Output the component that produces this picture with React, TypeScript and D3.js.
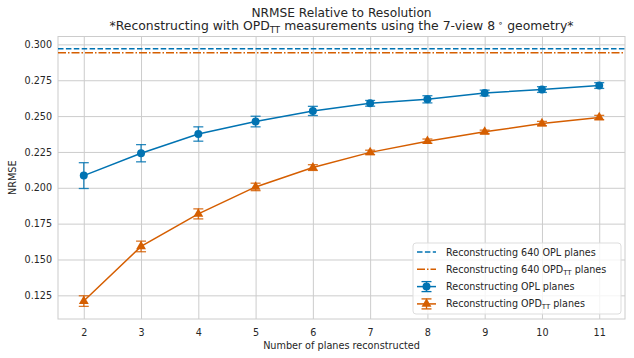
import React, { useEffect, useRef } from "react";
import * as d3 from "d3";

// number of planes reconstructed (x)
const planes = [2, 3, 4, 5, 6, 7, 8, 9, 10, 11];
// reconstructing OPL planes
const oplMean = [0.2085, 0.2241, 0.2375, 0.2462, 0.2536, 0.2589, 0.2617, 0.2661, 0.2685, 0.2713];
const oplErr = [0.009, 0.006, 0.005, 0.0037, 0.0032, 0.002, 0.0025, 0.002, 0.002, 0.002];
// reconstructing OPD_TT planes
const opdMean = [0.121, 0.1591, 0.1818, 0.2006, 0.2141, 0.2247, 0.2325, 0.239, 0.2448, 0.249];
const opdErr = [0.0037, 0.0037, 0.0035, 0.0026, 0.002, 0.0015, 0.0015, 0.0012, 0.0015, 0.0015];
// 640-plane reference levels
const opl640 = 0.2969;
const opd640 = 0.2942;
const yTicks = [0.125, 0.15, 0.175, 0.2, 0.225, 0.25, 0.275, 0.3];

const BLUE = "#0173b2";
const ORANGE = "#d55e00";
const GRID = "#cccccc";
const TEXT = "#262626";
const FONT = "'DejaVu Sans', sans-serif";

export default function App() {
  const svgRef = useRef<SVGSVGElement>(null);

  useEffect(() => {
    const w = 634;
    const h = 358;
    const m = { left: 58, right: 625, top: 36.5, bottom: 319 };
    const svg = d3.select(svgRef.current).attr("width", w).attr("height", h);
    svg.selectAll("*").remove();

    const x = d3.scaleLinear().domain([1.55, 11.45]).range([m.left, m.right]);
    const y = d3.scaleLinear().domain([0.1085, 0.3055]).range([m.bottom, m.top]);

    svg.append("rect").attr("width", w).attr("height", h).attr("fill", "white");

    // grid
    const xGrid = d3.axisBottom(x).tickValues(planes).tickSize(-(m.bottom - m.top)).tickFormat(() => "");
    const yGrid = d3.axisLeft(y).tickValues(yTicks).tickSize(-(m.right - m.left)).tickFormat(() => "");
    svg.append("g").attr("transform", `translate(0,${m.bottom})`).call(xGrid)
      .call(g => g.select(".domain").remove())
      .call(g => g.selectAll("line").attr("stroke", GRID).attr("stroke-width", 1));
    svg.append("g").attr("transform", `translate(${m.left},0)`).call(yGrid)
      .call(g => g.select(".domain").remove())
      .call(g => g.selectAll("line").attr("stroke", GRID).attr("stroke-width", 1));

    // spines
    svg.append("rect")
      .attr("x", m.left).attr("y", m.top)
      .attr("width", m.right - m.left).attr("height", m.bottom - m.top)
      .attr("fill", "none").attr("stroke", GRID).attr("stroke-width", 1);

    // tick labels
    const xAxis = d3.axisBottom(x).tickValues(planes).tickSize(0).tickPadding(10).tickFormat(d3.format("d"));
    svg.append("g").attr("transform", `translate(0,${m.bottom})`).call(xAxis)
      .call(g => g.select(".domain").remove())
      .call(g => g.selectAll("text").attr("fill", TEXT).style("font-family", FONT).style("font-size", "9.6px"));
    const yAxis = d3.axisLeft(y).tickValues(yTicks).tickSize(0).tickPadding(6).tickFormat(d3.format(".3f"));
    svg.append("g").attr("transform", `translate(${m.left},0)`).call(yAxis)
      .call(g => g.select(".domain").remove())
      .call(g => g.selectAll("text").attr("fill", TEXT).style("font-family", FONT).style("font-size", "9.6px"));

    // axis labels
    svg.append("text")
      .attr("x", (m.left + m.right) / 2).attr("y", 349)
      .attr("text-anchor", "middle").attr("fill", TEXT)
      .style("font-family", FONT).style("font-size", "9.7px")
      .text("Number of planes reconstructed");
    svg.append("text")
      .attr("transform", `translate(16,${(m.top + m.bottom) / 2}) rotate(-90)`)
      .attr("text-anchor", "middle").attr("fill", TEXT)
      .style("font-family", FONT).style("font-size", "9.7px")
      .text("NRMSE");

    // titles
    const cx = (m.left + m.right) / 2;
    svg.append("text")
      .attr("x", cx).attr("y", 16.5).attr("text-anchor", "middle").attr("fill", TEXT)
      .style("font-family", FONT).style("font-size", "12.2px")
      .text("NRMSE Relative to Resolution");
    const t2 = svg.append("text")
      .attr("x", cx).attr("y", 30).attr("text-anchor", "middle").attr("fill", TEXT)
      .style("font-family", FONT).style("font-size", "12.4px");
    t2.append("tspan").text("*Reconstructing with OPD");
    t2.append("tspan").attr("dy", 2.5).style("font-size", "8.7px").text("TT");
    t2.append("tspan").attr("dy", -2.5).text(" measurements using the 7-view 8");
    t2.append("tspan").attr("dy", -4).style("font-size", "8.7px").text(" ∘");
    t2.append("tspan").attr("dy", 4).text("  geometry*");

    // 640-plane horizontal lines
    svg.append("line")
      .attr("x1", m.left).attr("x2", m.right).attr("y1", y(opl640)).attr("y2", y(opl640))
      .attr("stroke", BLUE).attr("stroke-width", 1.5).attr("stroke-dasharray", "5.5,2.4");
    svg.append("line")
      .attr("x1", m.left).attr("x2", m.right).attr("y1", y(opd640)).attr("y2", y(opd640))
      .attr("stroke", ORANGE).attr("stroke-width", 1.5).attr("stroke-dasharray", "8,2,1.5,2");

    const line = d3.line<number>().x((d, i) => x(planes[i])).y(d => y(d));
    const cap = 5;

    const series = [
      { mean: oplMean, err: oplErr, color: BLUE, marker: d3.symbolCircle, size: 50 },
      { mean: opdMean, err: opdErr, color: ORANGE, marker: d3.symbolTriangle, size: 42 },
    ];

    series.forEach(s => {
      const g = svg.append("g");
      g.append("path").attr("d", line(s.mean)).attr("fill", "none")
        .attr("stroke", s.color).attr("stroke-width", 1.5);
      const eb = g.selectAll(".eb").data(s.mean).join("g").attr("class", "eb")
        .attr("stroke", s.color).attr("stroke-width", 1.3).attr("stroke-opacity", 0.85);
      eb.append("line")
        .attr("x1", (d, i) => x(planes[i])).attr("x2", (d, i) => x(planes[i]))
        .attr("y1", (d, i) => y(d - s.err[i])).attr("y2", (d, i) => y(d + s.err[i]));
      eb.append("line")
        .attr("x1", (d, i) => x(planes[i]) - cap).attr("x2", (d, i) => x(planes[i]) + cap)
        .attr("y1", (d, i) => y(d - s.err[i])).attr("y2", (d, i) => y(d - s.err[i]));
      eb.append("line")
        .attr("x1", (d, i) => x(planes[i]) - cap).attr("x2", (d, i) => x(planes[i]) + cap)
        .attr("y1", (d, i) => y(d + s.err[i])).attr("y2", (d, i) => y(d + s.err[i]));
      g.selectAll(".mk").data(s.mean).join("path").attr("class", "mk")
        .attr("d", d3.symbol().type(s.marker).size(s.size)())
        .attr("transform", (d, i) => `translate(${x(planes[i])},${y(d)})`)
        .attr("fill", s.color);
    });

    // legend
    const lg = svg.append("g").attr("transform", "translate(413,243)");
    lg.append("rect").attr("width", 208).attr("height", 71).attr("rx", 3)
      .attr("fill", "white").attr("fill-opacity", 0.8)
      .attr("stroke", "#dddddd").attr("stroke-width", 1);
    const entries = [
      { label: "Reconstructing 640 OPL planes", sub: false, color: BLUE, kind: "dash" },
      { label: "Reconstructing 640 OPD", sub: true, color: ORANGE, kind: "dashdot" },
      { label: "Reconstructing OPL planes", sub: false, color: BLUE, kind: "circle" },
      { label: "Reconstructing OPD", sub: true, color: ORANGE, kind: "triangle" },
    ];
    entries.forEach((e, i) => {
      const cy = 9 + i * 17.3;
      const row = lg.append("g").attr("transform", `translate(0,${cy})`);
      const hl = row.append("line").attr("x1", 4).attr("x2", 23).attr("y1", 0).attr("y2", 0)
        .attr("stroke", e.color).attr("stroke-width", 1.5);
      if (e.kind === "dash") hl.attr("stroke-dasharray", "5.5,2.4");
      if (e.kind === "dashdot") hl.attr("stroke-dasharray", "8,2,1.5,2");
      if (e.kind === "circle" || e.kind === "triangle") {
        row.append("line").attr("x1", 13.5).attr("x2", 13.5).attr("y1", -5).attr("y2", 5)
          .attr("stroke", e.color).attr("stroke-width", 1.3);
        [-5, 5].forEach(dy => row.append("line").attr("x1", 8.5).attr("x2", 18.5)
          .attr("y1", dy).attr("y2", dy).attr("stroke", e.color).attr("stroke-width", 1.3));
        row.append("path")
          .attr("d", d3.symbol().type(e.kind === "circle" ? d3.symbolCircle : d3.symbolTriangle)
            .size(e.kind === "circle" ? 50 : 42)())
          .attr("transform", "translate(13.5,0)").attr("fill", e.color);
      }
      const t = row.append("text").attr("x", 33).attr("y", 3.5).attr("fill", TEXT)
        .style("font-family", FONT).style("font-size", "9.6px");
      t.append("tspan").text(e.label);
      if (e.sub) {
        t.append("tspan").attr("dy", 2).style("font-size", "7px").text("TT");
        t.append("tspan").attr("dy", -2).text(" planes");
      }
    });
  }, []);

  return (
    <div>
      <svg ref={svgRef} style={{ position: "absolute", left: 0, top: 0, display: "block" }}></svg>
    </div>
  );
}
